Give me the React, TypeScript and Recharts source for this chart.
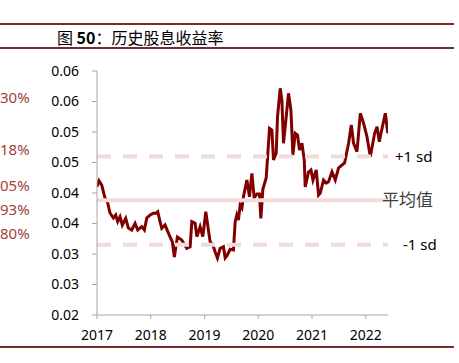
import { LineChart, Line, XAxis, YAxis, ReferenceLine } from 'recharts'

// fractional year of each weekly reading
const YEARS = [
  2017.0, 2017.037, 2017.088, 2017.149, 2017.199, 2017.242, 2017.304, 2017.348, 2017.385, 2017.428,
  2017.471, 2017.534, 2017.583, 2017.646, 2017.708, 2017.758, 2017.832, 2017.881, 2017.926, 2017.987,
  2018.048, 2018.093, 2018.13, 2018.173, 2018.205, 2018.266, 2018.317, 2018.359, 2018.402, 2018.439,
  2018.495, 2018.577, 2018.62, 2018.67, 2018.732, 2018.764, 2018.825, 2018.857, 2018.918, 2018.968,
  2019.024, 2019.054, 2019.104, 2019.155, 2019.197, 2019.24, 2019.291, 2019.352, 2019.384, 2019.415,
  2019.477, 2019.538, 2019.57, 2019.601, 2019.631, 2019.663, 2019.695, 2019.724, 2019.788, 2019.836,
  2019.881, 2019.924, 2019.974, 2020.022, 2020.048, 2020.086, 2020.147, 2020.209, 2020.253, 2020.283,
  2020.333, 2020.358, 2020.408, 2020.439, 2020.469, 2020.52, 2020.562, 2020.607, 2020.644, 2020.687,
  2020.73, 2020.767, 2020.812, 2020.855, 2020.873, 2020.935, 2020.98, 2021.017, 2021.078, 2021.121,
  2021.153, 2021.214, 2021.264, 2021.307, 2021.371, 2021.432, 2021.493, 2021.557, 2021.605, 2021.68,
  2021.73, 2021.773, 2021.836, 2021.898, 2021.959, 2022.022, 2022.084, 2022.164, 2022.209, 2022.251,
  2022.289, 2022.363, 2022.41,
]

const YIELDS = [
  0.04103, 0.04202, 0.04131, 0.03918, 0.03836, 0.03672, 0.0359, 0.03639, 0.0353, 0.03611,
  0.03475, 0.03585, 0.03426, 0.03393, 0.03503, 0.03393, 0.03448, 0.03393, 0.0359, 0.03639,
  0.03667, 0.03667, 0.03693, 0.0353, 0.03421, 0.03475, 0.03366, 0.03279, 0.03197, 0.02951,
  0.03279, 0.0323, 0.03164, 0.03093, 0.0312, 0.0353, 0.03503, 0.03284, 0.03448, 0.03284,
  0.03693, 0.03503, 0.03202, 0.03148, 0.03038, 0.02934, 0.03093, 0.0312, 0.02934, 0.02967,
  0.03077, 0.03066, 0.03525, 0.03639, 0.03557, 0.03803, 0.03754, 0.03939, 0.04213, 0.03939,
  0.04323, 0.03918, 0.03984, 0.03984, 0.03585, 0.04066, 0.04246, 0.05061, 0.05033, 0.04541,
  0.04651, 0.05251, 0.05716, 0.05525, 0.04815, 0.05251, 0.05634, 0.05361, 0.04623, 0.04979,
  0.04951, 0.04705, 0.04815, 0.04541, 0.04098, 0.04344, 0.04377, 0.04213, 0.04377, 0.03967,
  0.04, 0.04213, 0.04164, 0.04185, 0.04349, 0.04213, 0.0441, 0.04459, 0.04492, 0.04815,
  0.05115, 0.04815, 0.04677, 0.05307, 0.05143, 0.04923, 0.04595, 0.04979, 0.05087, 0.04841,
  0.05005, 0.05307, 0.04979,
]

const X_TICKS = [2017, 2018, 2019, 2020, 2021, 2022]
const Y_TICKS = [0.02, 0.025, 0.03, 0.035, 0.04, 0.045, 0.05, 0.055, 0.06]
const Y_TICK_LABELS = ['0.02', '0.03', '0.03', '0.04', '0.04', '0.05', '0.05', '0.06', '0.06']

const MEAN = 0.0388
const SD_UPPER = 0.046
const SD_LOWER = 0.0315

// labels cut off from the neighbouring chart
const LEFT_LABELS = ['30%', '18%', '05%', '93%', '80%']
const LEFT_LABEL_TOPS = [87, 139, 175, 199, 223]

const TITLE = '图 50：历史股息收益率'

const FONT = "'Noto Sans', 'Noto Sans CJK SC', sans-serif"
const RULE = '#7b2a2a'
const BAND = '#f2dcdb'

const data = YEARS.map((x, i) => ({ x, y: YIELDS[i] }))

export default function App() {
  const [head, rest] = TITLE.split(' 50')
  return (
    <div style={{ position: 'absolute', left: 0, top: 0, width: 459, height: 363, background: '#fff', fontFamily: FONT }}>
      <div style={{ position: 'absolute', left: 0, top: 23, width: 454, height: 2, background: RULE }} />
      <div
        style={{
          position: 'absolute', left: 57, top: 27, fontSize: 16, lineHeight: '20px',
          fontFamily: "'Noto Sans CJK SC', sans-serif", color: '#000', whiteSpace: 'nowrap',
        }}
      >
        {head} <b>50</b>{rest}
      </div>
      <div style={{ position: 'absolute', left: 0, top: 47, width: 454, height: 2, background: RULE }} />
      <div style={{ position: 'absolute', left: 0, top: 346, width: 454, height: 2, background: RULE }} />

      {LEFT_LABELS.map((t, i) => (
        <div
          key={t}
          style={{ position: 'absolute', left: 0, top: LEFT_LABEL_TOPS[i], fontSize: 15, lineHeight: '20px', color: '#a3413b' }}
        >
          {t}
        </div>
      ))}

      <div style={{ position: 'absolute', left: 0, top: 0 }}>
        <LineChart width={459} height={363} data={data} margin={{ top: 71, right: 71, bottom: 0, left: 0 }}>
          <XAxis
            dataKey="x"
            type="number"
            domain={[2017, 2022.413]}
            ticks={X_TICKS}
            allowDataOverflow
            height={48}
            tick={{ fill: '#000', fontSize: 14, fontFamily: FONT }}
            tickSize={4}
            tickMargin={11}
            stroke="#a6a6a6"
          />
          <YAxis
            type="number"
            domain={[0.02, 0.06]}
            ticks={Y_TICKS}
            width={97}
            tickFormatter={(v: number) => Y_TICK_LABELS[Y_TICKS.findIndex((t) => Math.abs(t - v) < 1e-6)] ?? ''}
            tick={{ fill: '#000', fontSize: 14, fontFamily: FONT }}
            tickSize={5}
            tickMargin={13}
            stroke="#a6a6a6"
          />
          <Line
            dataKey="y"
            type="linear"
            stroke="#800000"
            strokeWidth={3}
            dot={false}
            isAnimationActive={false}
          />
          {/* the bands sit on top of the series in the source */}
          <ReferenceLine
            y={SD_UPPER}
            stroke={BAND}
            strokeWidth={4}
            strokeDasharray="14 12"
            zIndex={450}
            label={{ value: '+1 sd', position: 'right', offset: 7, fill: '#000', fontSize: 15, fontFamily: FONT }}
          />
          <ReferenceLine
            y={MEAN}
            stroke={BAND}
            strokeWidth={4}
            zIndex={450}
            label={{ value: '平均值', position: 'right', offset: -6, fill: '#404040', fontSize: 17, fontFamily: "'Noto Sans CJK SC', sans-serif" }}
          />
          <ReferenceLine
            y={SD_LOWER}
            stroke={BAND}
            strokeWidth={4}
            strokeDasharray="14 12"
            zIndex={450}
            label={{ value: '-1 sd', position: 'right', offset: 15, fill: '#000', fontSize: 15, fontFamily: FONT }}
          />
        </LineChart>
      </div>
    </div>
  )
}
